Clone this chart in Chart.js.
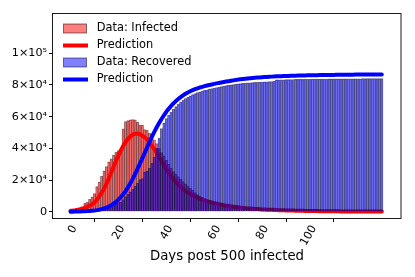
<!DOCTYPE html>
<html><head><meta charset="utf-8">
<script src="https://cdn.jsdelivr.net/npm/chart.js@4"></script>
<style>html,body{margin:0;padding:0;background:#fff}#wrap{width:415px;height:277px;position:relative}</style>
</head><body><div id="wrap"><canvas id="c" width="415" height="277"></canvas></div>
<script>
const days = Array.from({length: 131}, (_, i) => i);
const infected = [
503, 595, 858, 1325, 1970, 2737, 5277, 5834, 7835, 9375,
11357, 15806, 18677, 22374, 25763, 28479, 31395, 33415, 35707, 37426,
38640, 38564, 52314, 56865, 57457, 58000, 58116, 58010, 56553, 54839,
54621, 51873, 51409, 49658, 47441, 45398, 42958, 39849, 37242, 34944,
32414, 29912, 27450, 25284, 23760, 22222, 20406, 19005, 17645, 16116,
14859, 13569, 12124, 10783, 9906, 9030, 8106, 7372, 6731, 6189,
5799, 5410, 5030, 4603, 4310, 3881, 3600, 3236, 2967, 2764,
2640, 2550, 2400, 2300, 2200, 2150, 2100, 2050, 2000, 1920,
1850, 1780, 1700, 1640, 1580, 1500, 1240, 1190, 1140, 1100,
1050, 1000, 980, 950, 920, 880, 850, 830, 800, 780,
720, 650, 600, 560, 520, 480, 440, 400, 370, 340,
310, 290, 270, 250, 230, 220, 210, 200, 190, 180,
170, 165, 160, 150, 145, 140, 130, 120, 110, 100, 90];
const recovered = [
45, 48, 62, 81, 105, 140, 232, 253, 306, 427,
534, 824, 1039, 1333, 1677, 2108, 2715, 3399, 4122, 4928,
5746, 6195, 7581, 9493, 10956, 12513, 14318, 16201, 18066, 20238,
20929, 25128, 25613, 27600, 30500, 34500, 40000, 46500, 52500, 56000,
58700, 60900, 62900, 64700, 66300, 67800, 69100, 70300, 71400, 72300,
73100, 73900, 74550, 75100, 75600, 76100, 76550, 76950, 77350, 77700,
78050, 78350, 78650, 78950, 79250, 79500, 79750, 80000, 80250, 80450,
80650, 80820, 80980, 81120, 81250, 81370, 81480, 81580, 81680, 81770,
81860, 81940, 82010, 82080, 82150, 82210, 83150, 83200, 83240, 83280,
83320, 83360, 83390, 83420, 83450, 83480, 83510, 83540, 83560, 83580,
83600, 83620, 83640, 83660, 83680, 83700, 83720, 83740, 83760, 83780,
83800, 83810, 83820, 83830, 83840, 83850, 83860, 83870, 83880, 83890,
83900, 83910, 83920, 83930, 83940, 83950, 83960, 83970, 83980, 83990, 84000];
const predInfected = [
600, 780, 1000, 1280, 1600, 2000, 2500, 3100, 3800, 4700,
5800, 7500, 9500, 11900, 14500, 17600, 21000, 24700, 28500, 32100,
35500, 38600, 41500, 44000, 46000, 47600, 48700, 49200, 49300, 48900,
48000, 46900, 45500, 43600, 41500, 39300, 37000, 34500, 32000, 29500,
27000, 24700, 22500, 20600, 18800, 17200, 15800, 14400, 13200, 12100,
11200, 10300, 9500, 8800, 8200, 7600, 7100, 6600, 6200, 5800,
5400, 5050, 4700, 4400, 4100, 3850, 3600, 3370, 3150, 2950,
2750, 2570, 2400, 2250, 2100, 1970, 1850, 1740, 1630, 1540,
1450, 1370, 1300, 1230, 1160, 1100, 1040, 980, 920, 870,
820, 770, 730, 690, 650, 610, 575, 540, 510, 480,
450, 420, 395, 370, 350, 330, 310, 290, 270, 255,
240, 225, 210, 198, 186, 175, 165, 155, 146, 138,
130, 122, 115, 108, 102, 96, 90, 85, 80, 75, 70];
const predRecovered = [
0, 30, 70, 110, 160, 220, 290, 380, 490, 620,
780, 990, 1250, 1600, 2050, 2600, 3250, 4050, 5000, 6200,
7600, 9200, 11000, 13000, 15300, 17900, 20700, 23800, 27000, 30300,
33700, 37200, 40600, 44000, 47300, 50400, 53300, 56000, 58500, 60800,
63000, 64900, 66700, 68300, 69800, 71100, 72300, 73400, 74400, 75250,
76000, 76700, 77300, 77850, 78350, 78800, 79200, 79600, 79950, 80300,
80650, 80950, 81250, 81550, 81850, 82100, 82350, 82600, 82850, 83100,
83350, 83550, 83750, 83920, 84080, 84230, 84370, 84500, 84620, 84740,
84850, 84950, 85050, 85140, 85230, 85310, 85390, 85460, 85530, 85590,
85650, 85700, 85750, 85800, 85850, 85890, 85930, 85970, 86010, 86050,
86080, 86110, 86140, 86170, 86200, 86230, 86250, 86270, 86290, 86310,
86330, 86350, 86370, 86390, 86410, 86430, 86450, 86470, 86490, 86500,
86510, 86520, 86530, 86540, 86550, 86560, 86570, 86580, 86590, 86600, 86610];
const xTicks = [0, 20, 40, 60, 80, 100];
const yTicks = [0, 20000, 40000, 60000, 80000, 100000];
const yTickLabels = ['0', '2×10⁴', '4×10⁴', '6×10⁴', '8×10⁴', '1×10⁵'];
const legendLabels = ['Data: Infected', 'Prediction', 'Data: Recovered', 'Prediction'];
const xTitle = 'Days post 500 infected';

const pts = arr => days.map((d, i) => ({x: d, y: arr[i]}));
const FONT = 'DejaVu Sans';

const framePlugin = {
  id: 'frame',
  afterDatasetsDraw(chart) {
    const a = chart.chartArea, ctx = chart.ctx;
    ctx.save();
    ctx.strokeStyle = '#1a1a1a';
    ctx.lineWidth = 1;
    ctx.strokeRect(a.left - 0.5, a.top + 0.5, a.right - a.left + 0.5, a.bottom - a.top);
    ctx.restore();
  }
};
const legendPlugin = {
  id: 'customLegend',
  afterDraw(chart) {
    const ctx = chart.ctx;
    const rows = [28.5, 45.5, 62.5, 79.5];
    ctx.save();
    rows.forEach((y, i) => {
      if (i === 0 || i === 2) {
        ctx.fillStyle = i === 0 ? 'rgba(255,0,0,0.5)' : 'rgba(0,0,255,0.5)';
        ctx.fillRect(63.5, y - 4.5, 23, 9);
        ctx.strokeStyle = 'rgba(0,0,0,0.5)';
        ctx.lineWidth = 1;
        ctx.strokeRect(63.5, y - 4.5, 23, 9);
      } else {
        ctx.strokeStyle = i === 1 ? '#ff0000' : '#0000ff';
        ctx.lineWidth = 4;
        ctx.beginPath();
        ctx.moveTo(63, y);
        ctx.lineTo(88, y);
        ctx.stroke();
      }
      ctx.fillStyle = '#000';
      ctx.font = '11.4px "' + FONT + '"';
      ctx.textBaseline = 'middle';
      ctx.textAlign = 'left';
      ctx.fillText(legendLabels[i], 96.7, y);
    });
    ctx.restore();
  }
};

const barCommon = {type: 'bar', grouped: false, barPercentage: 1, categoryPercentage: 1,
  borderColor: 'rgba(0,0,0,0.5)', borderWidth: 0.5, borderSkipped: 'bottom'};
const lineCommon = {type: 'line', borderWidth: 4, pointRadius: 0, fill: false, tension: 0,
  borderCapStyle: 'round', borderJoinStyle: 'round'};

new Chart(document.getElementById('c'), {
  type: 'bar',
  data: {datasets: [
    Object.assign({}, barCommon, {label: legendLabels[0], data: pts(infected), backgroundColor: 'rgba(255,0,0,0.5)', order: 4}),
    Object.assign({}, lineCommon, {label: legendLabels[1], data: pts(predInfected), borderColor: '#ff0000', order: 3}),
    Object.assign({}, barCommon, {label: legendLabels[2], data: pts(recovered), backgroundColor: 'rgba(0,0,255,0.5)', order: 2}),
    Object.assign({}, lineCommon, {label: legendLabels[3], data: pts(predRecovered), borderColor: '#0000ff', order: 1})
  ]},
  options: {
    responsive: false, animation: false, devicePixelRatio: 1,
    layout: {padding: {left: 0, right: 14, top: 13, bottom: 0}},
    plugins: {legend: {display: false}, tooltip: {enabled: false}},
    scales: {
      x: {
        type: 'linear', min: -7.31, max: 138.0, offset: false,
        afterBuildTicks: s => { s.ticks = xTicks.map(v => ({value: v})); },
        afterFit: s => { s.height = 59; },
        ticks: {minRotation: 60, maxRotation: 60, autoSkip: false, color: '#000', padding: 1,
          labelOffset: 4, font: {family: FONT, size: 11.2}},
        grid: {display: true, drawOnChartArea: false, drawTicks: true, tickLength: 4, color: '#000'},
        border: {display: false},
        title: {display: true, text: xTitle, color: '#000', font: {family: FONT, size: 13.3},
          padding: {top: 0, bottom: 12}}
      },
      y: {
        min: -3975, max: 125375,
        afterBuildTicks: s => { s.ticks = yTicks.map(v => ({value: v})); },
        afterFit: s => { s.width = 53; },
        ticks: {color: '#000', padding: 2, font: {family: FONT, size: 11.2},
          callback: v => yTickLabels[yTicks.indexOf(v)]},
        grid: {display: true, drawOnChartArea: false, drawTicks: true, tickLength: 4, color: '#000'},
        border: {display: false}
      }
    }
  },
  plugins: [framePlugin, legendPlugin]
});
</script>
</body></html>
